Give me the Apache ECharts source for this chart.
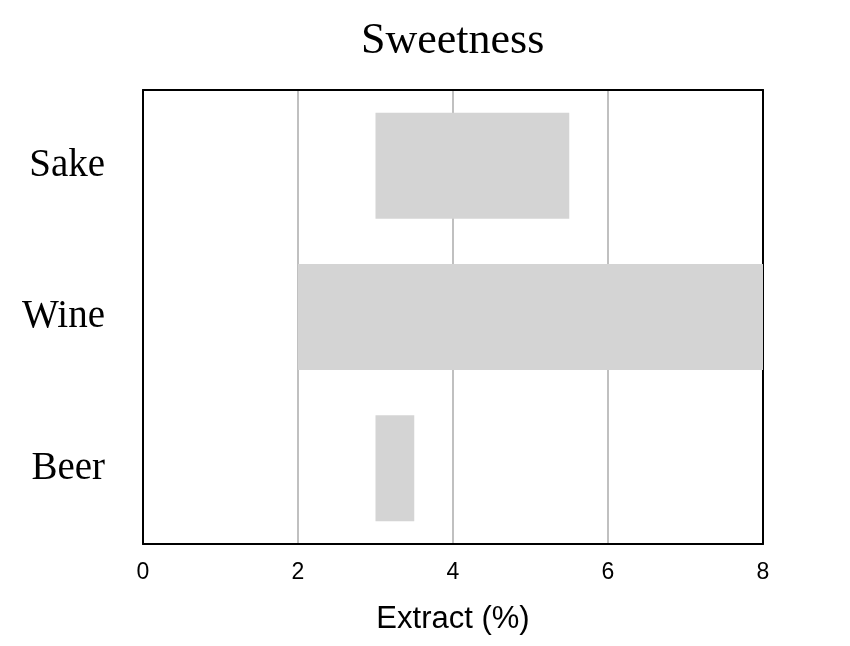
<!DOCTYPE html>
<html><head><meta charset="utf-8">
<script src="https://cdn.jsdelivr.net/npm/echarts@6/dist/echarts.min.js"></script>
<style>html,body{margin:0;padding:0;background:#fff}#c{width:850px;height:646px}</style>
</head><body><div id="c"></div>
<script>
const categories = ['Sake', 'Wine', 'Beer'];
const rangeStart = [3, 2, 3];
const rangeEnd = [5.5, 8, 3.5];
const xTicks = [0, 2, 4, 6, 8];

const chart = echarts.init(document.getElementById('c'));
chart.setOption({
  animation: false,
  backgroundColor: '#fff',
  title: {
    text: 'Sweetness', left: 356, top: 14,
    textStyle: { fontFamily: 'Liberation Serif', fontSize: 44, fontWeight: 'normal', color: '#000' }
  },
  grid: { left: 143, right: 87, top: 90, bottom: 102 },
  xAxis: [{
    type: 'value', min: xTicks[0], max: xTicks[xTicks.length - 1], interval: 2,
    name: 'Extract (%)', nameLocation: 'middle', nameGap: 60,
    nameTextStyle: { fontFamily: 'Liberation Sans', fontSize: 31, color: '#000' },
    axisLine: { show: true, onZero: false, lineStyle: { color: '#000', width: 2 } }, axisTick: { show: false },
    axisLabel: { fontFamily: 'Liberation Sans', fontSize: 23, color: '#000', margin: 17 },
    splitLine: { show: true, showMinLine: false, showMaxLine: false, lineStyle: { color: '#c0c0c0', width: 2 } }
  }, {
    type: 'value', position: 'top', min: xTicks[0], max: xTicks[xTicks.length - 1], interval: 2,
    axisLine: { show: true, onZero: false, lineStyle: { color: '#000', width: 2 } }, axisTick: { show: false },
    axisLabel: { show: false }, splitLine: { show: false }
  }],
  yAxis: [{
    type: 'category', data: categories, inverse: true,
    axisLine: { show: true, onZero: false, lineStyle: { color: '#000', width: 2 } }, axisTick: { show: false },
    axisLabel: { fontFamily: 'Liberation Serif', fontSize: 39, color: '#000', margin: 38 },
    splitLine: { show: false }
  }, {
    type: 'category', data: categories, inverse: true, position: 'right',
    axisLine: { show: true, onZero: false, lineStyle: { color: '#000', width: 2 } }, axisTick: { show: false },
    axisLabel: { show: false }, splitLine: { show: false }
  }],
  series: [
    { type: 'bar', stack: 'r', data: rangeStart, itemStyle: { color: 'transparent' }, barCategoryGap: '30%', silent: true },
    { type: 'bar', stack: 'r', data: rangeEnd.map((v, i) => v - rangeStart[i]), itemStyle: { color: '#d4d4d4' }, barCategoryGap: '30%' }
  ]
});
</script></body></html>
